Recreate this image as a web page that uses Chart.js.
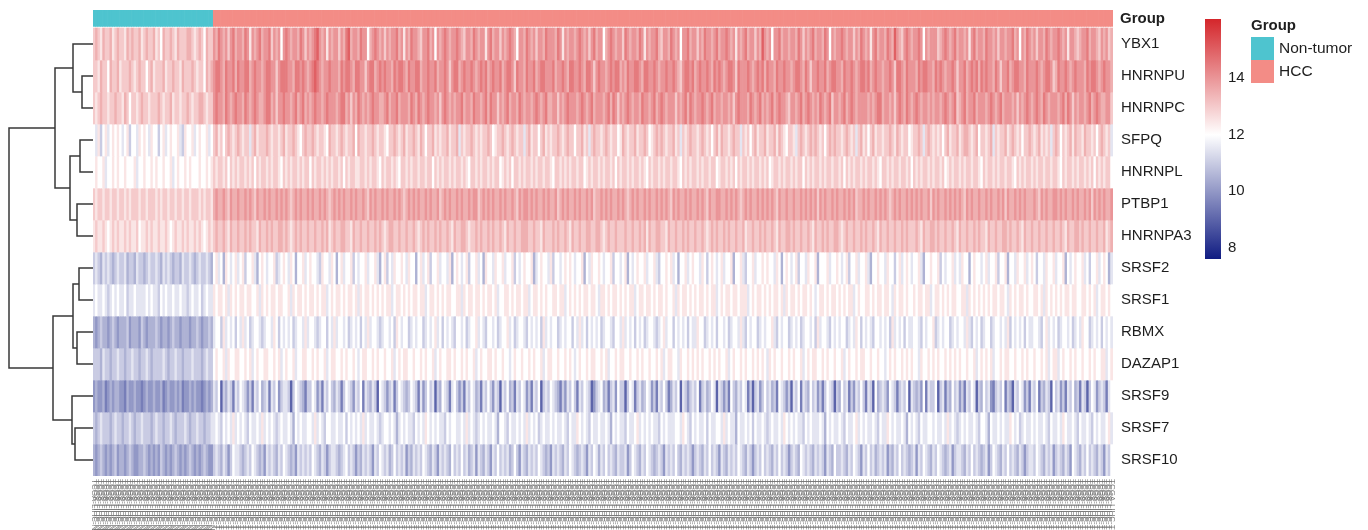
<!DOCTYPE html>
<html>
<head>
<meta charset="utf-8">
<script src="https://cdn.jsdelivr.net/npm/chart.js@4.4.1/dist/chart.umd.min.js"></script>
<style>
  html, body { margin: 0; padding: 0; background: #fff; }
  #wrap { position: relative; width: 1368px; height: 530px; overflow: hidden; }
  #heat { position: absolute; left: 0; top: 0; }
  #tree { position: absolute; left: 0; top: 0; }
  #bar { position: absolute; left: 1205px; top: 19px; }
</style>
</head>
<body>
<div id="wrap">
  <canvas id="heat" width="1368" height="530"></canvas>
  <canvas id="tree" width="96" height="530"></canvas>
  <canvas id="bar" width="60" height="240"></canvas>
</div>
<script>
// genes, top to bottom
const genes = ['YBX1', 'HNRNPU', 'HNRNPC', 'SFPQ', 'HNRNPL', 'PTBP1', 'HNRNPA3',
  'SRSF2', 'SRSF1', 'RBMX', 'DAZAP1', 'SRSF9', 'SRSF7', 'SRSF10'];

const groupNames = ['Non-tumor', 'HCC'];
const groupSizes = [50, 374];

// expression per sample, one letter per column: a = 8.0, b = 8.5 ... p = 15.5
// first 50 letters are non-tumor, the other 374 HCC
const ybx1 =
  "klkjlkkljk lkkjlklkkl jklkkljkil kklkjlkkkl lkjklkilkk " +
  "mlnmlmkmnl mmlnmjmlmn lmmnkmlmim nmlmmlnmkm lmnomlmjml " +
  "mmkmlnolmm lnmmilmnml mkmlmmnlmj mlnmmlkmmn lmimlmnmlm " +
  "mnmlkmmlnm lmmjmnlmmk mlmnmlimml nmlmkmmlnm mmlnmjmlmm " +
  "lmnmlmkmnl mmilmnmlmm knmlmmlnmj mlmmnlkmml nmlmimmnlm " +
  "mkmlnmmlmn lmmnmlmjml mnlmmkmlom lmimmnlmml mmlnmkmlmn " +
  "lmmlnmimlm mnmlmmkmln mlmjmnlmml nmlomlkmnm lmmnmimlmm " +
  "mklmnmlmnl mmlmjmnlmm lnmmlmkmml mmnlmimlnm lmkmmlnmlm " +
  "mnmlmjmmlk lmmnlmmlkm lmkl";
const hnrnpu =
  "kkjlkkilkk ljkkklkjkl kkikljkkkl jkklkkjlkk klkjkkilkl " +
  "mnnmlnmmnl nmmnnlmnmm lmnnmmkmnn nmmlnnmnml mnonmlmmnm " +
  "mmlnmnnmln nmmkmnnlmn mnmmlnmnnm lnmmnnlmmn mmnlmmnmkm " +
  "nnlmnmmnml mnmnlmnmmn lmnnmknmml nmmnlmnnmm mnlmmnmlnn " +
  "mmnmlnnmkm nmmlmnmnnl mlnmmnnmln nmmnmlmmnm mnmlkmnnmn " +
  "lmnmmnmlnm nmlmnnmknm mmnmlmnmnl nmmlnmmnmm lmnnmlnmkm " +
  "mnmmnlmnnm mlnmmnmlmn nmnlmnmmlm mnmknnmlnm mmlnmnnmml " +
  "nmnmlmmnmk mmnlmnmnln mnmmlnmkmm nlmnnmmlnm mmnmlmnnmk " +
  "lnmmnmlmnm mmlnmnnmlm nmml";
const hnrnpc =
  "kjklkkjkkl kkjlkikkjk lkkjkkklkj kkljkkjkkl kjkkllkjkk " +
  "mnmmlnmlmn mmlnmlmnml lmnnlmkmmn mmlmnlmnlm lmnmmlmnmm " +
  "mlmnnlmkml nmlmlmnmml lmnlmmnlmm mlnmlnmlmn mmlmkmnmlm " +
  "lmmnlmmlnm mlmnlnmmkm lmnlmmlnml mmlmnmlmnl lmmkmlmnmm " +
  "mlmnmlmnlm mmlmnlnmkm lmnmlmmlnm mlmnlmnmlm mmkmlmnlnm " +
  "lmmnmlmnlm mlmmlmkmnm mmlnmlmnlm lmnlmnmmlk mmlmnlmnml " +
  "mlnmlmnkmm lmnlmnmlmm mmlmlmnnlm mlmkmnmlnm lmnmlmmlml " +
  "mmlmnmlmnk lmnlmmnlmm mlmnmlmnlm mmlmkmlmnm lmnmlnmlmm " +
  "mlmnlnmkml mmlmnlmnml lmmk";
const sfpq =
  "ihjgijhiji jihijgiihj ijihjiigij hijiijhgji ijhijiijhi " +
  "kljkiklkjk lkjkkhkljk kklkjkkjkl jkklkjiklk klkjkkjilk " +
  "kjklkjkkli lkkjkklkjk kjikklkjkl jkklkjlkik kljkjkkljk " +
  "klhkjkklkj kjkklkijkk lkjklkjkkh kljkkikljk jkklkjklkk " +
  "ikkljkhklk kjklkjkkij lkjkkljkkl kijklklkjk kljkhkjklk " +
  "kjklkjkikl jlkkjklkkh kjkikljkkl jkkljlkjik kjhklkjklk " +
  "lkjkiklklk kjklkjkhkl jkikljkkjk klkjlkjkki jkklkhklkj " +
  "kjkikljkkl jkllkjklik kjklhkjkkl jklkjkikkl kjkljkjkhk " +
  "lkikjkljlk kjlkkjkikl kjkh";
const hnrnpl =
  "ijiijhiiji jiijiiijhi ijiijijiij iijhijiiji jiiijiijij " +
  "kjkkjkikjk jkkjkjkikj kkjkjkkjik jkjkkjkjkk ikjkkjkjkj " +
  "kkjkikjkkj jkkjkjkkji kjkkjkjikk jkjkkjkkjk kikjkjkkjk " +
  "jkkjkjikkj kjkkjkjkki jkjkikkjkj kkjkjkkjkk jikkjkjkjk " +
  "kjkkijkjkk jkjkkjkikj kkjkjkkjkj ikjkkjkjkk jkkjikjkjk " +
  "kjkjkkjkki jkkjkjkikj kkjkjkkjkj kijkkjkjkk jkjkkikjkj " +
  "kkjkjkkjkk jkikjkjkkj kjkkjkjikk jkjkkjkkjk ikjkjkkjkj " +
  "kkjkijkjkk jkjkkjkkji kjkkjkjkkj kkjikjkjkk jkjkkjkkjk " +
  "kjikjkkjkj kkjkjkikjk jkki";
const ptbp1 =
  "kjkkjkkjkk jkkjkjkkkj kkjkkkjkjk kjkkjkkjkk jkkkjkjkkj " +
  "lmllmlkmll mllmlmlkml lmlmllmlml mlklmlmllm lmllmlmlkl " +
  "mlmlmllmlm llmlkmlmll mlmllmlmlk lmlmlmllml mllmklmlml " +
  "lmlmllmlmm klmlmlmllm lmllmlkmlm mlmlmllmlm llmklmlmll " +
  "mlmllmlmkl lmlmlmllml mlklmlmllm lmllmlmlml kmlmllmlml " +
  "lmlmlkmllm mllmlmlmlk lmlmllmlml mlmlkmllml lmllmlmlml " +
  "mkmlmllmlm llmlmlmkll mlmllmlmlm lklmlmllml mlmlmllmkm " +
  "lmllmlmlml mlkmlmllml lmlmllmlmk mllmlmlmll lmlkmlmllm " +
  "mlmlmllmlm llmlmkmlml mllm";
const hnrnpa3 =
  "jkjjkjijkj kjjkjkjjki jjkjkjjkjj kjijkjjkjk jjkjkjijkj " +
  "klkklkjlkk lkklklkkjl kklklkkllk lkjklklkkl kklkklkljk " +
  "lkkllkkjlk klkklkklkl kjkllkklkk lkklkjklkl kklklkklkj " +
  "lkkllkjkkl klkklklkkl kjlkklkkll lkklkkjlkk klklkklkjl " +
  "kklkkllkkl lkjklkklkk klkklkklkl jlkkllkkjl kklkklklkk " +
  "lkklkjklkl kklklkklkk ljkklkklkl kklkjlkkll klkklkklkj " +
  "lkklklkkll kjklkklkkl klkklkjlkk lkklkklklk kklkjlkkll " +
  "klkklkklkj lkklkklklk kjlkklkkll klkklkjlkk lkklkklkkl " +
  "kklkjlkkll klkklkklkk ljkl";
const srsf2 =
  "ghgfhghgfg hgghfggfhg gfghgghgfh ghgfggfhgg hgfghgghgf " +
  "ijhifjihij hijgiijhfi jihiijghij ihjifiijhi jiihgjiihj " +
  "ifijhiijgi hiijhiijhf ijgihjiiji hjiifijhij giijhiihjf " +
  "ijihijgiij hifjiihjii jhiijgihij iijfhijiih jgiihijiji " +
  "hiijfihjii jihiijgiih ijfihijiij hiijhgiiji jhifiijhij " +
  "iihjigijih ijhiijfiij hgiijhiiji jiihjifiji hijgiihjii " +
  "jfiiijhiij ihijgiijhi ijhfiijiih jiigijhiji hiijhfiiji " +
  "ijgihiijhi hjiifijiih ijhiijgiij fiihjiijhi jigiihjiij " +
  "hiijfihiji ijhigiijhi jifh";
const srsf1 =
  "hihhihghih ihhighhihh hhihihhgih ihhihhihhg hihhighihh " +
  "jijjijhjij ijjijjiijh jijijjijji ijhjijjiji jjijijjhij " +
  "ijjijijjij hjijjijiji jijjhijjij ijijjijjhi jjijijijji " +
  "ijjhjijjij jijijjijhi ijjijijjij jhijjijiji ijjijjhiji " +
  "jijijjijji hjjijijjij ijijjhijji jjijijjiji ijhjijjiji " +
  "jijjijijjh ijijjijjij jjhijijjij ijijjijhji jjijijjiji " +
  "hijjijijji jijijjhiji ijjijijjij jihjijjiji ijijjijjhi " +
  "jjijijijji ijjhjijiji jijijjijji hjijijjiji ijjijhjiji " +
  "jijijjijji ijjijijhij jiji";
const rbmx =
  "fefgffefgf efffgefffe gfefffgfef fefgffefff effgfeffgf " +
  "hiigjhihig ihjhighiih ghiihjigih ihighiihjh iihghiigih " +
  "jhiihighih igihjhiihg hiihigjihi ighihiighi hijhigihih " +
  "giihighiij hihgiihigh iijhighiih gihihigjhi hiighihiig " +
  "ihjhigihih ighiihgiih jhihigihig hiihghijhi igihihigih " +
  "hjiighihig iihighiihj hgihiighih iijhgihiig hihighiihi " +
  "gjhiihgihi hiighihjig ihihgiihih igjhihigih hiihgihiij " +
  "ghihiighih iihjhgihig hiighiihih jgihihigih hiihgijhih " +
  "ighiihighi hjiighihig ihih";
const dazap1 =
  "gggfhggfgg hggfgghggf gghgfggggh gfgghggfgg ghgggfghgg " +
  "ijiijhjiij jiijijhiji ijjiijijhi jiijhiijji ijijiijhij " +
  "jiijijiiji hijjiijiji ijiijhijij jiijiijiji ijhijiijji " +
  "jiijijiijh ijiijjijii jiihijiiji ijijiijhij jiijiijiji " +
  "hijiijijji ijijhiijij jiijiijiji ijiijijhij jiihjiijij " +
  "ijijiijiji jiijhijiij ijiijijiji hjijiijiij ijiijhijij " +
  "jiijijiiji ijhijiijij jiijiijiih ijijiijiji jiihjiijij " +
  "ijiijijiji jiijiijhij ijijhiijij jiijiijiji ijiijijhij " +
  "jhijiijiji ijiijijiij jhij";
const srsf9 =
  "efeefdefef feedfeefee defeefeefd efeefefdee fefeedefef " +
  "hgicgfhgdh gihgegdhgi fghdhgiegh hgcgihgfdg gihegdhgig " +
  "fhgdgihgeh gidhgfhgci hgeghdgihg fgihgdhegi ghcgfihgdh " +
  "igegdhgihf gdhgigehgc hgifgdhgih egdhgicghg ihgfdgehgi " +
  "gdhgihgceg hifgdgheig gcgihdghfg ihegdhgigd fhgichgegh " +
  "gidghfgihc hgegdigfhg ihdgcghegi ghfgdihgeg chgidhgfig " +
  "hegdgihgcg fighdgehgi gdhgcifghg eihgdghgic hgfgeidhgg " +
  "icghdgfigh egdhgihcgf ighedghgid gfchgihegd hgidgfhgci " +
  "ghegdhgifg dhgcgihegh gdhi";
const srsf7 =
  "gfghgggfgh ggfgghgfgg hgggfghggf gghgfggghg fgghggfggh " +
  "hihgihihjh ihihgihhih jhihihghih hihfihihhi ihjhihgiih " +
  "hihhigihih ihjhihhihg hiihihfhih ihhgihihji hihihhgihi " +
  "ihhihjhihg hihihhihfi ihgihhihih jhihighihh ihihhihgih " +
  "hjihihgihh ihhihfihih hgihhijhih ihihhgihih hhiihjihgi " +
  "hihhigihhi ihjhihhfih hihigihhih ghihhihjih ihihhgihih " +
  "hhihfihihh ihgihhijhi hihhihgihh jihihhihfi hihgihhiih " +
  "ihhihjhihg hihihhihgi ihfihhihih hjihighihh ihihhihgih " +
  "hihjihhihg ihhihgihih hijh";
const srsf10 =
  "fefgfefefg effefgfeef fgfefefegf efefgfefef gfefefgfee " +
  "ghgfhgegih hgfghgihgf gehghgfhgi hgfgehghgh gihgfhgegh " +
  "hgfghighge gfhghgehgi hghfgighgh egfhghgihg fhgehghgfi " +
  "ghgighfghe hgfhgehgig hghfgigehg fhghgihgfg ehghgfhgih " +
  "gfghgehgih fhgighgfhg ghegihgfhg ihgfghgehg hgigfhghge " +
  "ghgfhgighg ehgfhghgih gfhgeghgig hgfhgighge ghgfihghgf " +
  "hghgehgfig ghgfhgihge hgighfghgh egfhgighgf ghehgihgfh " +
  "gihgfghegh hgfhgighgf ghegihgfhg ighgfhgegh hgihgfhghe " +
  "ghgfhgeihg fhgighgfhg ehgi";

const levelRows = [ybx1, hnrnpu, hnrnpc, sfpq, hnrnpl, ptbp1, hnrnpa3,
  srsf2, srsf1, rbmx, dazap1, srsf9, srsf7, srsf10];

// row clustering: [left, right, height]; negative = gene (1-based), positive = earlier merge
const merges = [
  [-2, -3, 1.1], [-1, 1, 2.0], [-4, -5, 1.3], [-6, -7, 1.6], [3, 4, 2.3], [2, 5, 3.8],
  [-8, -9, 1.4], [-10, -11, 1.6], [7, 8, 2.0], [-13, -14, 1.8], [-12, 10, 2.1], [9, 11, 4.0],
  [6, 12, 8.4]
];

// colour key
const keyStops = [7.6, 12, 16.1];
const keyTicks = [8, 10, 12, 14];

// ---- styles ----
const FONT = '"Liberation Sans", Arial, Helvetica, sans-serif';
const stopColors = ['#101c82', '#ffffff', '#d4262b'];
const groupColors = ['#4ec4cf', '#f38c86'];
const textColor = '#1e1e1e';

const values = levelRows.map(s => s.replace(/\s+/g, '').split('').map(c => 8 + 0.5 * (c.charCodeAt(0) - 97)));

const sampleGroup = [];
const sampleIds = [];
groupSizes.forEach((n, g) => {
  for (let i = 1; i <= n; i++) {
    sampleGroup.push(g);
    sampleIds.push('TCGA-LIHC-' + (g === 0 ? 'N' : 'T') + String(i).padStart(3, '0') + (g === 0 ? '-11A-01' : '-01A-01'));
  }
});

function rgb(hex) {
  return [1, 3, 5].map(i => parseInt(hex.substr(i, 2), 16));
}
const stopRgb = stopColors.map(rgb);

function colorFor(v) {
  v = Math.max(keyStops[0], Math.min(keyStops[2], v));
  const k = v <= keyStops[1] ? 0 : 1;
  const t = (v - keyStops[k]) / (keyStops[k + 1] - keyStops[k]);
  const a = stopRgb[k], b = stopRgb[k + 1];
  const c = a.map((x, i) => Math.round(x + (b[i] - x) * t));
  return 'rgb(' + c.join(',') + ')';
}

const nRows = genes.length;
const yTop = nRows + 18 / 32;        // room above the heatmap for the group bar
const groupBand = [nRows + 0.05, yTop];
const padTop = 10, padBottom = 54;

const datasets = [];
genes.forEach((g, r) => {
  datasets.push({
    label: g,
    data: values[r].map(() => [nRows - 1 - r, nRows - r]),
    backgroundColor: values[r].map(colorFor),
    borderWidth: 0,
    barPercentage: 1,
    categoryPercentage: 1,
    grouped: false
  });
});
datasets.push({
  label: 'Group',
  data: sampleGroup.map(() => groupBand),
  backgroundColor: sampleGroup.map(g => groupColors[g]),
  borderWidth: 0,
  barPercentage: 1,
  categoryPercentage: 1,
  grouped: false
});

const textPlugin = {
  id: 'heatText',
  afterDraw(chart) {
    const ctx = chart.ctx;
    const area = chart.chartArea;
    const ys = chart.scales.y;
    const xs = chart.scales.x;
    ctx.save();
    ctx.fillStyle = textColor;
    ctx.textBaseline = 'middle';
    ctx.textAlign = 'left';
    ctx.font = '15px ' + FONT;
    genes.forEach((g, r) => {
      ctx.fillText(g, area.right + 8, ys.getPixelForValue(nRows - 0.5 - r));
    });
    ctx.font = 'bold 15px ' + FONT;
    ctx.fillText('Group', area.right + 7, ys.getPixelForValue((groupBand[0] + groupBand[1]) / 2) + 1);

    // group legend
    ctx.fillText('Group', 1251, 26);
    groupNames.forEach((name, i) => {
      ctx.fillStyle = groupColors[i];
      ctx.fillRect(1251, 37 + i * 23, 23, 23);
      ctx.fillStyle = textColor;
      ctx.font = '15.5px ' + FONT;
      ctx.fillText(name, 1279, 49 + i * 23);
    });

    // sample names under the columns
    ctx.fillStyle = 'rgba(115,115,115,0.95)';
    ctx.font = '8px ' + FONT;
    ctx.textBaseline = 'middle';
    sampleIds.forEach((id, i) => {
      ctx.save();
      ctx.translate(xs.getPixelForValue(i), area.bottom + 3);
      ctx.rotate(Math.PI / 2);
      ctx.fillText(id, 0, 0);
      ctx.restore();
    });
    ctx.restore();
  }
};

new Chart(document.getElementById('heat'), {
  type: 'bar',
  data: { labels: sampleIds, datasets: datasets },
  options: {
    responsive: false,
    animation: false,
    events: [],
    layout: { padding: { left: 93, right: 255, top: padTop, bottom: padBottom } },
    scales: {
      x: { type: 'category', display: false, offset: true },
      y: { type: 'linear', display: false, min: 0, max: yTop }
    },
    plugins: { legend: { display: false }, tooltip: { enabled: false } }
  },
  plugins: [textPlugin]
});

// dendrogram of the rows, same vertical scale as the heatmap
const nodes = [];
function node(id) {
  if (id < 0) return { h: 0, y: nRows - 0.5 - (-id - 1) };
  return nodes[id - 1];
}
const treeSets = merges.map(([a, b, h]) => {
  const A = node(a), B = node(b);
  nodes.push({ h: h, y: (A.y + B.y) / 2 });
  return {
    data: [{ x: A.h, y: A.y }, { x: h, y: A.y }, { x: h, y: B.y }, { x: B.h, y: B.y }],
    showLine: true,
    borderColor: '#383838',
    borderWidth: 1.5,
    pointRadius: 0,
    fill: false,
    tension: 0,
    clip: false
  };
});

new Chart(document.getElementById('tree'), {
  type: 'scatter',
  data: { datasets: treeSets },
  options: {
    responsive: false,
    animation: false,
    events: [],
    layout: { padding: { left: 0, right: 3, top: padTop, bottom: padBottom } },
    scales: {
      x: { type: 'linear', display: false, min: 0, max: 9.3, reverse: true },
      y: { type: 'linear', display: false, min: 0, max: yTop }
    },
    plugins: { legend: { display: false }, tooltip: { enabled: false } }
  }
});

// colour key
const keyPlugin = {
  id: 'keyTicks',
  afterDraw(chart) {
    const ctx = chart.ctx;
    const ys = chart.scales.y;
    ctx.save();
    ctx.fillStyle = textColor;
    ctx.font = '15px ' + FONT;
    ctx.textBaseline = 'middle';
    keyTicks.forEach(t => ctx.fillText(String(t), chart.chartArea.right + 7, ys.getPixelForValue(t)));
    ctx.restore();
  }
};

new Chart(document.getElementById('bar'), {
  type: 'bar',
  data: {
    labels: ['key'],
    datasets: [{
      data: [[keyStops[0], keyStops[2]]],
      backgroundColor(c) {
        const ch = c.chart;
        const ys = ch.scales.y;
        if (!ch.chartArea || !ys) return '#ffffff';
        const grad = ch.ctx.createLinearGradient(0, ys.getPixelForValue(keyStops[2]), 0, ys.getPixelForValue(keyStops[0]));
        keyStops.forEach((v, i) => grad.addColorStop((keyStops[2] - v) / (keyStops[2] - keyStops[0]), stopColors[i]));
        return grad;
      },
      borderWidth: 0,
      barPercentage: 1,
      categoryPercentage: 1
    }]
  },
  options: {
    responsive: false,
    animation: false,
    events: [],
    layout: { padding: { right: 44 } },
    scales: {
      x: { display: false },
      y: { display: false, min: keyStops[0], max: keyStops[2] }
    },
    plugins: { legend: { display: false }, tooltip: { enabled: false } }
  },
  plugins: [keyPlugin]
});
</script>
</body>
</html>
